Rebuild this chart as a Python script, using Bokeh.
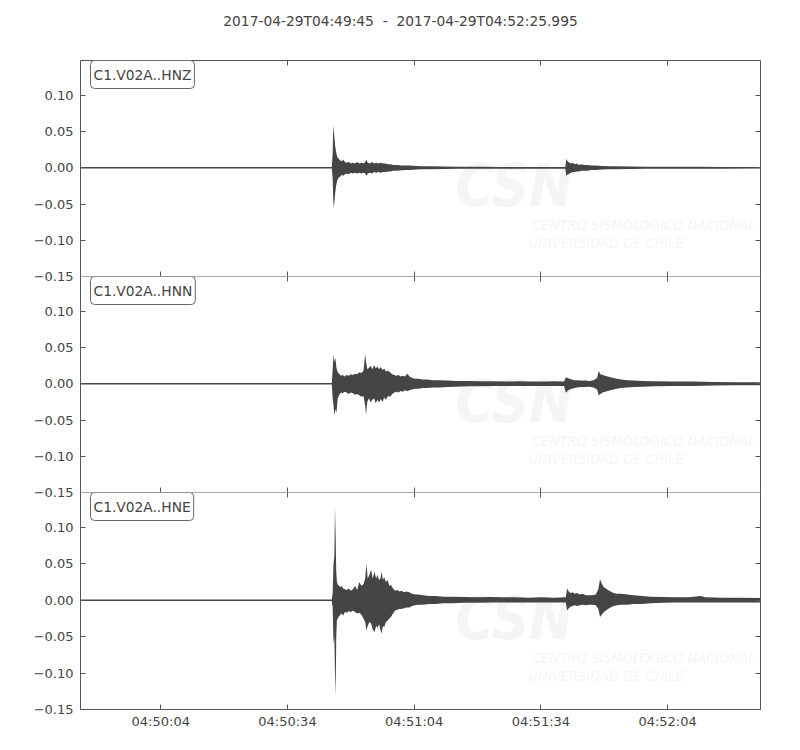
import numpy as np
import pandas as pd
from bokeh.plotting import figure
from bokeh.layouts import column
from bokeh.models import (Range1d, LinearAxis, DatetimeAxis, FixedTicker,
                          DatetimeTickFormatter, CustomJSTickFormatter, Label)
from bokeh.embed import file_html
from bokeh.resources import INLINE

# ---------------- data ----------------
title_text = "2017-04-29T04:49:45 \u00a0-\u00a0 2017-04-29T04:52:25.995"
start_time = "2017-04-29T04:49:45"
end_time = "2017-04-29T04:52:25.995"
channels = ["C1.V02A..HNZ", "C1.V02A..HNN", "C1.V02A..HNE"]

x_tick_labels = ["04:50:04", "04:50:34", "04:51:04", "04:51:34", "04:52:04"]
y_ticks = [-0.15, -0.10, -0.05, 0.0, 0.05, 0.10]

# envelope of each trace: seconds after start, upper and lower extreme
t_hnz = [0, 10, 20, 30, 40, 50, 59.5,
         59.7, 59.85, 60.0, 60.15, 60.3, 60.5, 60.7, 60.9, 61.2, 61.5, 61.8, 62.2, 62.6,
         63.0, 63.5, 64.0, 64.5, 65.0, 65.5, 66.0, 66.5, 67.0, 67.4, 67.7, 68.0, 68.5,
         69.0, 69.5, 70.0, 70.5, 71.0, 71.6, 72.2, 72.8, 73.4, 74.0, 75.0, 76.0, 77.0,
         78.0, 79.5, 81.0, 83.0, 86.0, 90.0, 95.0, 100.0, 106.0, 111.0, 114.8,
         115.0, 115.2, 115.5, 115.8, 116.2, 116.6, 117.0, 117.5, 118.0, 118.6, 119.3,
         120.0, 121.0, 122.0, 123.5, 125.0, 127.0, 130.0, 134.0, 140.0, 146.0, 152.0, 160.995]
up_hnz = [0.0009, 0.0009, 0.0009, 0.0009, 0.0009, 0.0009, 0.0009,
          0.020, 0.058, 0.050, 0.040, 0.030, 0.022, 0.017, 0.014, 0.012, 0.010, 0.009, 0.011, 0.008,
          0.007, 0.008, 0.006, 0.007, 0.006, 0.008, 0.006, 0.007, 0.006, 0.008, 0.011, 0.007, 0.006,
          0.008, 0.006, 0.007, 0.006, 0.007, 0.006, 0.006, 0.005, 0.005, 0.004, 0.004, 0.003, 0.003,
          0.003, 0.0025, 0.002, 0.002, 0.0018, 0.0015, 0.0015, 0.0012, 0.0012, 0.0012, 0.0012,
          0.012, 0.010, 0.008, 0.007, 0.006, 0.007, 0.005, 0.006, 0.004, 0.005, 0.004,
          0.004, 0.003, 0.003, 0.0025, 0.002, 0.002, 0.0018, 0.0015, 0.0015, 0.0013, 0.0012, 0.0010]
dn_hnz = [-0.0009, -0.0009, -0.0009, -0.0009, -0.0009, -0.0009, -0.0009,
          -0.015, -0.045, -0.056, -0.045, -0.035, -0.025, -0.020, -0.016, -0.013, -0.012, -0.010, -0.011, -0.009,
          -0.008, -0.009, -0.007, -0.008, -0.007, -0.008, -0.007, -0.008, -0.007, -0.008, -0.011, -0.008, -0.007,
          -0.008, -0.006, -0.007, -0.006, -0.007, -0.006, -0.006, -0.005, -0.005, -0.004, -0.004, -0.0035, -0.003,
          -0.003, -0.0025, -0.002, -0.002, -0.0018, -0.0015, -0.0015, -0.0012, -0.0012, -0.0012, -0.0012,
          -0.011, -0.010, -0.009, -0.008, -0.007, -0.006, -0.006, -0.005, -0.005, -0.004, -0.004,
          -0.004, -0.003, -0.003, -0.0025, -0.002, -0.002, -0.0018, -0.0015, -0.0015, -0.0013, -0.0012, -0.0010]

t_hnn = [0, 10, 20, 30, 40, 50, 59.5,
         59.7, 59.9, 60.1, 60.35, 60.6, 60.9, 61.3, 61.7, 62.1, 62.5, 63.0, 63.5, 64.0, 64.5,
         65.0, 65.5, 66.0, 66.5, 67.0, 67.4, 67.6, 67.9, 68.3, 68.7, 69.1, 69.5, 69.9, 70.3,
         70.7, 71.1, 71.5, 71.9, 72.3, 72.8, 73.3, 73.8, 74.3, 74.8, 75.3, 75.8, 76.3, 76.8,
         77.4, 77.9, 78.5, 79.2, 80.0, 81.0, 82.0, 83.5, 85.0, 87.0, 89.0, 92.0, 95.0, 98.0,
         101.0, 104.0, 107.0, 110.0, 112.0, 114.5,
         114.9, 115.3, 115.8, 116.3, 116.9, 117.6, 118.5, 119.5, 120.5, 121.5, 122.3, 122.7,
         123.1, 123.6, 124.2, 124.8, 125.5, 126.2, 127.0, 128.0, 129.4, 131.0, 133.0, 136.0,
         140.0, 145.0, 150.0, 155.0, 160.995]
up_hnn = [0.001, 0.001, 0.001, 0.001, 0.001, 0.001, 0.001,
          0.020, 0.041, 0.030, 0.036, 0.022, 0.016, 0.013, 0.011, 0.012, 0.010, 0.012, 0.011, 0.013, 0.012,
          0.014, 0.013, 0.016, 0.015, 0.018, 0.041, 0.030, 0.020, 0.022, 0.025, 0.020, 0.026, 0.021, 0.024,
          0.020, 0.023, 0.019, 0.021, 0.017, 0.018, 0.016, 0.013, 0.012, 0.011, 0.012, 0.010, 0.011, 0.010,
          0.014, 0.010, 0.008, 0.007, 0.007, 0.006, 0.006, 0.005, 0.005, 0.0045, 0.004, 0.004, 0.0035, 0.0035,
          0.003, 0.0035, 0.003, 0.003, 0.0035, 0.003,
          0.009, 0.008, 0.007, 0.006, 0.005, 0.005, 0.0045, 0.0045, 0.004, 0.005, 0.008, 0.0176,
          0.013, 0.012, 0.011, 0.010, 0.009, 0.008, 0.007, 0.006, 0.005, 0.0045, 0.004, 0.0035,
          0.003, 0.003, 0.0025, 0.002, 0.002]
dn_hnn = [-0.001, -0.001, -0.001, -0.001, -0.001, -0.001, -0.001,
          -0.020, -0.030, -0.043, -0.035, -0.040, -0.020, -0.015, -0.012, -0.013, -0.011, -0.012, -0.014, -0.012, -0.013,
          -0.015, -0.014, -0.016, -0.018, -0.017, -0.030, -0.043, -0.025, -0.020, -0.026, -0.022, -0.020, -0.027, -0.022,
          -0.026, -0.021, -0.025, -0.019, -0.022, -0.017, -0.018, -0.014, -0.012, -0.011, -0.012, -0.010, -0.011, -0.009,
          -0.010, -0.009, -0.008, -0.007, -0.007, -0.006, -0.006, -0.005, -0.005, -0.0045, -0.004, -0.0035, -0.0035, -0.003,
          -0.003, -0.003, -0.003, -0.003, -0.003, -0.003,
          -0.0125, -0.010, -0.008, -0.007, -0.006, -0.005, -0.0045, -0.0045, -0.004, -0.005, -0.008, -0.016,
          -0.014, -0.012, -0.011, -0.010, -0.009, -0.008, -0.007, -0.006, -0.005, -0.0045, -0.004, -0.0035,
          -0.003, -0.003, -0.0025, -0.002, -0.002]

t_hne = [0, 10, 20, 30, 40, 50, 59.5,
         59.7, 59.9, 60.1, 60.25, 60.4, 60.55, 60.7, 60.9, 61.2, 61.5, 61.8, 62.2, 62.6, 63.0,
         63.5, 64.0, 64.5, 65.0, 65.5, 66.0, 66.5, 67.0, 67.4, 67.7, 68.0, 68.4, 68.8, 69.2,
         69.6, 70.0, 70.3, 70.7, 71.0, 71.3, 71.6, 71.9, 72.3, 72.7, 73.1, 73.5, 74.0, 74.5,
         75.0, 75.5, 76.0, 76.6, 77.2, 77.8, 78.5, 79.2, 80.0, 81.0, 82.5, 84.0, 86.0, 88.0,
         91.0, 94.0, 97.0, 100.0, 103.0, 106.0, 109.0, 112.0, 114.9,
         115.2, 115.6, 116.0, 116.5, 117.0, 117.6, 118.2, 118.9, 119.6, 120.4, 121.2, 122.0,
         122.6, 123.0, 123.4, 123.9, 124.4, 124.9, 125.5, 126.2, 127.0, 128.0, 129.5, 131.0,
         133.0, 135.0, 138.0, 141.0, 144.0, 146.8, 148.0, 152.0, 156.0, 160.995]
up_hne = [0.001, 0.001, 0.001, 0.001, 0.001, 0.001, 0.001,
          0.010, 0.051, 0.060, 0.128, 0.090, 0.040, 0.025, 0.022, 0.020, 0.018, 0.020, 0.016, 0.015, 0.014,
          0.016, 0.013, 0.015, 0.020, 0.014, 0.025, 0.020, 0.022, 0.030, 0.050, 0.030, 0.035, 0.042, 0.030,
          0.039, 0.030, 0.035, 0.028, 0.030, 0.039, 0.028, 0.032, 0.025, 0.028, 0.020, 0.021, 0.016, 0.013,
          0.014, 0.012, 0.013, 0.011, 0.012, 0.011, 0.009, 0.008, 0.008, 0.007, 0.006, 0.006, 0.005, 0.005,
          0.0045, 0.004, 0.0045, 0.004, 0.004, 0.0035, 0.004, 0.0035, 0.004,
          0.016, 0.012, 0.010, 0.011, 0.009, 0.010, 0.008, 0.009, 0.007, 0.007, 0.007, 0.008,
          0.015, 0.029, 0.023, 0.018, 0.016, 0.014, 0.012, 0.010, 0.009, 0.009, 0.008, 0.007,
          0.006, 0.005, 0.0045, 0.004, 0.004, 0.006, 0.004, 0.0035, 0.0035, 0.003]
dn_hne = [-0.001, -0.001, -0.001, -0.001, -0.001, -0.001, -0.001,
          -0.010, -0.060, -0.050, -0.100, -0.132, -0.050, -0.028, -0.025, -0.022, -0.020, -0.018, -0.021, -0.016, -0.017,
          -0.015, -0.016, -0.014, -0.016, -0.018, -0.017, -0.020, -0.025, -0.030, -0.041, -0.035, -0.030, -0.032, -0.040,
          -0.044, -0.035, -0.038, -0.033, -0.040, -0.046, -0.035, -0.037, -0.030, -0.028, -0.025, -0.023, -0.018, -0.014,
          -0.013, -0.012, -0.012, -0.011, -0.010, -0.010, -0.008, -0.007, -0.006, -0.006, -0.005, -0.005, -0.004, -0.004,
          -0.0035, -0.0035, -0.003, -0.003, -0.003, -0.003, -0.003, -0.003, -0.003,
          -0.014, -0.011, -0.009, -0.008, -0.007, -0.008, -0.007, -0.006, -0.007, -0.006, -0.006, -0.007,
          -0.012, -0.023, -0.020, -0.016, -0.014, -0.012, -0.010, -0.008, -0.007, -0.006, -0.006, -0.005,
          -0.005, -0.004, -0.0035, -0.003, -0.003, -0.003, -0.003, -0.003, -0.003, -0.003]

traces = [(t_hnz, up_hnz, dn_hnz), (t_hnn, up_hnn, dn_hnn), (t_hne, up_hne, dn_hne)]

# ---------------- styling ----------------
TRACE = "#454545"
SPINE = "#555555"
TEXT = "#444444"
WM = "#f5f5f5"
FONT = "DejaVu Sans"
WM_FONT = "DejaVu Sans Condensed, Liberation Sans"
OVERLAP = 10
TITLE_H = 40

t0 = pd.Timestamp(start_time)
t1 = pd.Timestamp(end_time)
day = start_time[:10]
x_ticks = [pd.Timestamp(day + "T" + s).value / 1e6 for s in x_tick_labels]

fmt_x = DatetimeTickFormatter(seconds="%H:%M:%S", minsec="%H:%M:%S", minutes="%H:%M:%S",
                              hourmin="%H:%M:%S", milliseconds="%H:%M:%S", hours="%H:%M:%S")
fmt_y = CustomJSTickFormatter(code="return (tick < -1e-9 ? '\u2212' : '') + Math.abs(tick).toFixed(2);")


def style_axis(ax, show_labels, line=True):
    ax.major_tick_in = 5
    ax.major_tick_out = 0
    ax.minor_tick_line_color = None
    ax.major_tick_line_color = SPINE
    ax.axis_line_color = SPINE if line else None
    ax.major_label_text_font = FONT
    if show_labels:
        ax.major_label_text_color = TEXT
        ax.major_label_text_font_size = "13px"
        ax.major_label_standoff = 4
    else:
        ax.major_label_text_color = None
        ax.major_label_text_font_size = "0px"
        ax.major_label_standoff = 0


# title strip (its frame is aligned with the panels' frames, which start 80px in)
tp = figure(width=798, height=TITLE_H, x_range=Range1d(0, 1), y_range=Range1d(0, 1),
            min_border=0, output_backend="svg", toolbar_location=None)
tp.axis.visible = False
tp.grid.visible = False
tp.outline_line_color = None
tp.add_layout(Label(x=320, y=TITLE_H - 20, x_units="screen", y_units="screen",
                    text=title_text, text_font=FONT, text_font_size="13.8px",
                    text_color=TEXT, text_align="center", text_baseline="middle"))

figs = [tp]
n = len(channels)
for i, (name, (tt, up, dn)) in enumerate(zip(channels, traces)):
    first = i == 0
    last = i == n - 1
    fh = 216 if not last else 217
    p = figure(x_axis_type="datetime",
               x_range=Range1d(t0, t1), y_range=Range1d(-0.15, 0.148),
               frame_width=680, frame_height=fh,
               min_border_left=80, min_border_right=38,
               min_border_top=(60 - TITLE_H) if first else 0,
               min_border_bottom=OVERLAP if not last else 0,
               output_backend="svg", toolbar_location=None)
    if not first:
        p.margin = (-OVERLAP, 0, 0, 0)
        p.border_fill_color = None
    else:
        p.border_fill_color = "white"
    p.outline_line_color = None
    p.grid.visible = False
    p.background_fill_color = "white"

    # watermark
    p.add_layout(Label(x=375, y=57, x_units="screen", y_units="screen", text="CSN",
                       text_font=WM_FONT, text_font_size="58px",
                       text_font_style="bold italic", text_color=WM, level="underlay"))
    p.add_layout(Label(x=452, y=44, x_units="screen", y_units="screen",
                       text="CENTRO SISMOLÓGICO NACIONAL",
                       text_font=WM_FONT, text_font_size="14.5px",
                       text_font_style="italic", text_color=WM, level="underlay"))
    p.add_layout(Label(x=448, y=26, x_units="screen", y_units="screen",
                       text="UNIVERSIDAD DE CHILE",
                       text_font=WM_FONT, text_font_size="14.5px",
                       text_font_style="italic", text_color=WM, level="underlay"))

    xs = t0 + pd.to_timedelta(np.array(tt, dtype=float), unit="s")
    p.varea(x=xs, y1=dn, y2=up, fill_color=TRACE)

    # axes
    p.xaxis.ticker = FixedTicker(ticks=x_ticks)
    p.xaxis.formatter = fmt_x
    style_axis(p.xaxis[0], last)
    p.yaxis.ticker = FixedTicker(ticks=y_ticks)
    p.yaxis.formatter = fmt_y
    style_axis(p.yaxis[0], True)
    p.yaxis.major_label_standoff = 7

    top = DatetimeAxis(ticker=FixedTicker(ticks=x_ticks), formatter=fmt_x)
    style_axis(top, False, line=first)
    p.add_layout(top, "above")
    right = LinearAxis(ticker=FixedTicker(ticks=y_ticks), formatter=fmt_y)
    style_axis(right, False)
    p.add_layout(right, "right")

    p.add_layout(Label(x=10, y=fh, x_units="screen", y_units="screen", text=name,
                       text_font=FONT, text_font_size="13.8px", text_color=TEXT,
                       text_align="left", text_baseline="top",
                       border_line_color="#666666", border_line_width=1,
                       background_fill_color="white", padding=(3, 6), border_radius=4))
    figs.append(p)

layout = column(*figs, spacing=0)
open("out.html", "w").write(file_html(layout, INLINE))
